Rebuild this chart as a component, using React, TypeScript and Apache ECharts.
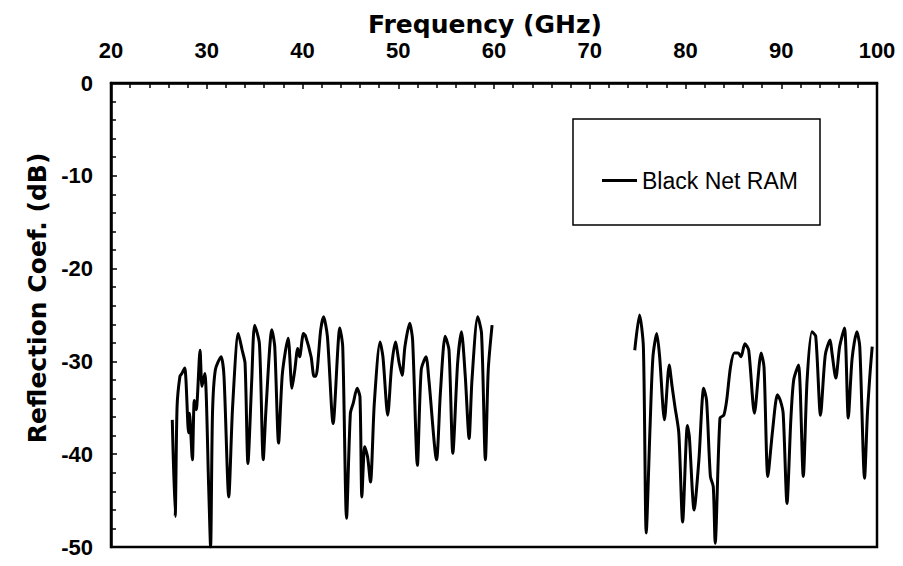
import React, { useEffect, useRef } from "react";
import * as echarts from "echarts";

// Segment 1 (approx. 26.4 - 60 GHz)
const freqA = [
  26.4, 26.7, 26.9, 27.2, 27.4, 27.7, 28.1, 28.2, 28.5, 28.7, 28.9, 29.3, 29.5, 29.8,
  30.2, 30.4, 30.6, 30.9, 31.5, 31.8, 32.3, 32.7, 33.3, 33.7, 34.0, 34.3, 34.7, 35.0,
  35.5, 35.9, 36.2, 36.8, 37.1, 37.5, 37.9, 38.5, 38.9, 39.2, 39.5, 39.7, 40.1, 40.3,
  40.9, 41.2, 41.4, 41.9, 42.2, 42.6, 43.2, 43.9, 44.2, 44.6, 45.0, 45.3, 45.7, 46.0,
  46.2, 46.5, 46.8, 47.1, 47.5, 48.1, 48.4, 48.9, 49.3, 49.7, 50.1, 50.4, 50.7, 51.2,
  51.5, 52.0, 52.4, 52.9, 53.2, 54.0, 54.4, 54.9, 55.3, 55.7, 56.2, 56.6, 57.0, 57.4,
  57.7, 58.3, 58.7, 59.1, 59.4, 59.8,
];
const lossA = [
  -36.3, -46.7, -34.9, -31.6, -31.3, -30.7, -37.7, -35.6, -40.6, -34.2, -35.2, -28.8, -32.7, -31.3,
  -43.5, -50.0, -35.6, -30.9, -29.5, -31.6, -44.6, -34.9, -27.0, -28.8, -30.2, -41.0, -32.0, -26.1,
  -28.1, -40.6, -34.9, -26.6, -28.4, -38.8, -31.3, -27.5, -32.9, -30.9, -28.6, -29.5, -27.0, -27.2,
  -29.5, -31.6, -31.6, -26.6, -25.2, -27.3, -36.7, -26.4, -28.4, -46.9, -35.6, -34.5, -32.9, -33.8,
  -44.6, -39.2, -40.3, -43.0, -34.5, -27.9, -29.5, -35.8, -30.6, -27.9, -30.2, -31.5, -28.4, -25.9,
  -27.7, -41.2, -30.9, -29.5, -32.0, -40.6, -33.4, -27.3, -28.8, -39.9, -30.2, -26.8, -31.6, -38.3,
  -32.0, -25.2, -27.0, -40.6, -30.9, -26.1,
];

// Segment 2 (approx. 74.7 - 99.5 GHz)
const freqB = [
  74.7, 75.2, 75.6, 75.9, 76.3, 76.6, 77.0, 77.3, 77.8, 78.3, 78.6, 78.9, 79.3, 79.7,
  80.2, 80.4, 80.9, 81.4, 81.9, 82.2, 82.6, 82.9, 83.1, 83.6, 84.0, 84.3, 84.7, 85.1,
  85.5, 85.8, 86.2, 86.6, 87.2, 87.9, 88.2, 88.6, 89.1, 89.6, 89.9, 90.2, 90.6, 91.0,
  91.3, 91.8, 92.3, 92.7, 93.2, 93.6, 94.1, 94.6, 95.1, 95.3, 95.7, 96.1, 96.6, 97.0,
  97.4, 97.9, 98.2, 98.7, 99.0, 99.3, 99.5,
];
const lossB = [
  -28.8, -25.0, -28.4, -48.5, -37.0, -29.5, -27.0, -29.5, -36.3, -30.4, -32.7, -34.9, -37.7, -47.3,
  -36.9, -38.1, -46.0, -40.6, -32.9, -34.2, -42.4, -43.5, -49.6, -36.1, -35.8, -34.2, -30.6, -29.1,
  -29.1, -29.5, -28.1, -28.8, -35.6, -29.1, -30.6, -42.4, -37.4, -33.6, -34.2, -35.6, -45.3, -36.3,
  -32.0, -30.4, -42.4, -32.0, -26.8, -27.3, -35.8, -29.3, -27.7, -29.1, -31.8, -28.4, -26.4, -36.1,
  -29.7, -26.8, -28.4, -42.6, -35.6, -30.9, -28.4,
];

const seriesName = "Black Net RAM";
const xTitle = "Frequency (GHz)";
const yTitle = "Reflection Coef. (dB)";

export default function App() {
  const ref = useRef<HTMLDivElement>(null);

  useEffect(() => {
    if (!ref.current) return;
    const chart = echarts.init(ref.current, undefined, { renderer: "svg" });

    const data: any[] = [];
    freqA.forEach((f, i) => data.push([f, lossA[i]]));
    data.push([67, null]);
    freqB.forEach((f, i) => data.push([f, lossB[i]]));

    const tickFont = {
      fontFamily: "Liberation Sans, Arial, sans-serif",
      fontSize: 22,
      fontWeight: "bold",
      color: "#000",
    };

    chart.setOption({
      animation: false,
      backgroundColor: "#fff",
      grid: {
        left: 111,
        right: 26,
        top: 83,
        bottom: 19,
        show: true,
        borderColor: "#000",
        borderWidth: 2.5,
        backgroundColor: "transparent",
      },
      xAxis: {
        type: "value",
        position: "top",
        min: 20,
        max: 100,
        interval: 10,
        axisLine: { show: true, lineStyle: { color: "#000", width: 2.5 } },
        axisTick: { show: true, inside: true, length: 6, lineStyle: { color: "#000", width: 1.5 } },
        minorTick: { show: true, splitNumber: 5, length: 5, lineStyle: { color: "#000", width: 1.5 } },
        axisLabel: { ...tickFont, margin: 22 },
        splitLine: { show: false },
      },
      yAxis: {
        type: "value",
        min: -50,
        max: 0,
        interval: 10,
        axisLine: { show: true, lineStyle: { color: "#000", width: 2.5 } },
        axisTick: { show: true, inside: true, length: 6, lineStyle: { color: "#000", width: 1.5 } },
        minorTick: { show: true, splitNumber: 5, length: 5, lineStyle: { color: "#000", width: 1.5 } },
        axisLabel: { ...tickFont, margin: 18 },
        splitLine: { show: false },
      },
      legend: {
        show: true,
        left: 597,
        top: 164,
        itemWidth: 35,
        itemHeight: 14,
        itemGap: 5,
        textStyle: { fontFamily: "Liberation Sans, Arial, sans-serif", fontSize: 23, color: "#000" },
        data: [{ name: seriesName, icon: "path://M0,5.5 L35,5.5 L35,8.5 L0,8.5 Z", itemStyle: { color: "#000" } }],
      },
      graphic: [
        {
          type: "rect",
          shape: { x: 573, y: 119, width: 247, height: 106 },
          style: { fill: "none", stroke: "#000", lineWidth: 1.5 },
          silent: true,
        },
        {
          type: "text",
          x: 485,
          y: 24,
          style: {
            text: xTitle,
            fontFamily: "DejaVu Sans, sans-serif",
            fontWeight: "bold",
            fontSize: 25,
            fill: "#000",
            align: "center",
            verticalAlign: "middle",
          },
        },
        {
          type: "text",
          x: 37,
          y: 298,
          rotation: Math.PI / 2,
          style: {
            text: yTitle,
            fontFamily: "DejaVu Sans, sans-serif",
            fontWeight: "bold",
            fontSize: 25,
            fill: "#000",
            align: "center",
            verticalAlign: "middle",
          },
        },
      ],
      series: [
        {
          name: seriesName,
          type: "line",
          data,
          connectNulls: false,
          showSymbol: false,
          symbol: "none",
          smooth: 0.25,
          lineStyle: { color: "#000", width: 3 },
          itemStyle: { color: "#000" },
          clip: true,
        },
      ],
    });

    return () => chart.dispose();
  }, []);

  return (
    <div
      ref={ref}
      style={{ position: "fixed", left: 0, top: 0, width: 903, height: 566, background: "#fff" }}
    />
  );
}
